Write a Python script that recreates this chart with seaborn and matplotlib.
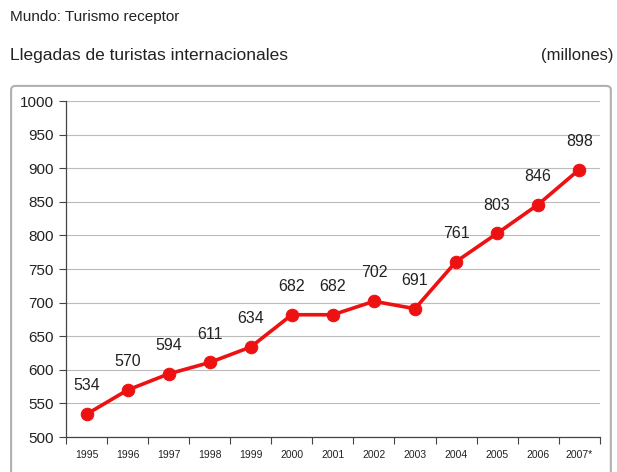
import matplotlib
matplotlib.use("Agg")
import matplotlib.pyplot as plt
import seaborn as sns
import pandas as pd
from matplotlib.patches import FancyBboxPatch

years = ["1995", "1996", "1997", "1998", "1999", "2000", "2001", "2002", "2003", "2004", "2005", "2006", "2007*"]
arrivals = [534, 570, 594, 611, 634, 682, 682, 702, 691, 761, 803, 846, 898]
yticks = [500, 550, 600, 650, 700, 750, 800, 850, 900, 950, 1000]

sns.set_theme(style="white")
plt.rcParams['font.family'] = ['Liberation Sans', 'DejaVu Sans']

df = pd.DataFrame({"year": years, "arrivals": arrivals})
df["pos"] = range(len(years))

fig = plt.figure(figsize=(6.17, 4.72), dpi=100)
ax = fig.add_axes([0.107, 0.074, 0.865, 0.712])

# outer frame
frame = FancyBboxPatch((0.018, -0.02), 0.972, 0.838, boxstyle="round,pad=0,rounding_size=0.008",
                       transform=fig.transFigure, facecolor="none", edgecolor="#b0b0b0", linewidth=1.5)
fig.patches.append(frame)

sns.lineplot(data=df, x="pos", y="arrivals", ax=ax, color="#ee1111", linewidth=2.6,
             marker="o", markersize=9, markeredgecolor="#ee1111")

for p, v in zip(df["pos"], df["arrivals"]):
    ax.annotate(str(v), (p, v), xytext=(0, 15), textcoords="offset points",
                ha="center", va="bottom", fontsize=11.5, color="#222222")

ax.set_ylim(500, 1000)
ax.set_yticks(yticks)
ax.set_yticklabels([str(t) for t in yticks], fontsize=11, color="#222222")
ax.set_xlim(-0.5, len(years) - 0.5)
ax.set_xticks(range(len(years)))
ax.set_xticklabels(years, fontsize=7.5, color="#222222")
ax.set_xticks([i - 0.5 for i in range(len(years) + 1)], minor=True)
ax.tick_params(axis="x", which="major", length=0, pad=9)
ax.tick_params(axis="x", which="minor", length=5, width=0.8, color="#444444", direction="out", bottom=True)
ax.tick_params(axis="y", length=5, width=0.8, color="#444444", direction="out", left=True, pad=4)
ax.yaxis.grid(True, color="#bbbbbb", linewidth=0.8)
ax.set_axisbelow(True)
for s in ["top", "right"]:
    ax.spines[s].set_visible(False)
for s in ["left", "bottom"]:
    ax.spines[s].set_color("#444444")
    ax.spines[s].set_linewidth(0.9)
ax.set_xlabel("")
ax.set_ylabel("")

fig.text(0.016, 0.963, "Mundo: Turismo receptor", fontsize=11, ha="left", va="center", color="#222222")
fig.text(0.016, 0.882, "Llegadas de turistas internacionales", fontsize=12.5, ha="left", va="center", color="#222222")
fig.text(0.995, 0.882, "(millones)", fontsize=12, ha="right", va="center", color="#222222")

fig.savefig("out.png", dpi=100)
